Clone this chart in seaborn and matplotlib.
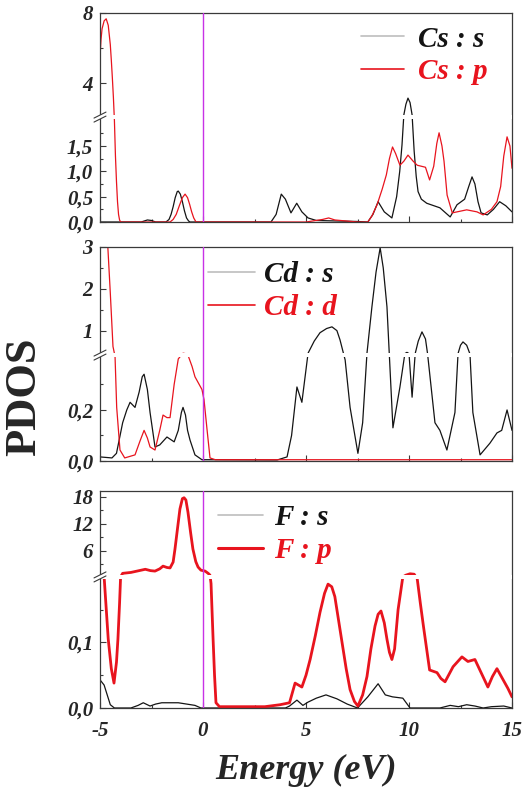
import numpy as np
import matplotlib
matplotlib.use("Agg")
import matplotlib.pyplot as plt
import seaborn as sns
from matplotlib.patches import Rectangle
from matplotlib.ticker import FixedLocator

# ---------------- data: partial densities of states (states/eV) ----------------
cs_s_energy = [-5, -3.0, -2.7, -2.5, -2.3, -1.8, -1.65, -1.55, -1.45, -1.35, -1.25, -1.2, -1.1, -1.0,
               -0.9, -0.8, -0.7, -0.63, -0.4,
               3.3, 3.55, 3.8, 4.0, 4.27, 4.55, 4.8, 5.1, 5.5, 6.5, 7.5, 8.0, 8.25, 8.5, 8.8, 9.17, 9.4,
               9.55, 9.66, 9.75, 9.85, 9.95, 10.05, 10.15, 10.25, 10.35, 10.44, 10.6, 10.86, 11.5, 12.0,
               12.33, 12.7, 12.9, 13.06, 13.2, 13.35, 13.5, 13.8, 14.1, 14.4, 14.7, 15]
cs_s_pdos = [0, 0, 0.04, 0.03, 0, 0, 0.05, 0.15, 0.3, 0.48, 0.6, 0.61, 0.55, 0.4,
             0.22, 0.08, 0.02, 0, 0,
             0, 0.15, 0.55, 0.45, 0.18, 0.37, 0.2, 0.08, 0.03, 0.02, 0.01, 0, 0.15, 0.4, 0.2, 0.08, 0.5,
             1.0, 1.52, 2.2, 2.8, 3.15, 2.9, 2.2, 1.4, 0.9, 0.6, 0.45, 0.37, 0.28, 0.1,
             0.34, 0.45, 0.7, 0.89, 0.75, 0.4, 0.18, 0.14, 0.25, 0.4, 0.32, 0.2]

cs_p_energy = [-5, -4.95, -4.9, -4.8, -4.7, -4.6, -4.5, -4.45, -4.4, -4.35, -4.3, -4.25, -4.2, -4.15,
               -4.1, -4.05, -4.0, -3.0, -1.6, -1.45, -1.3, -1.15, -1.0, -0.87, -0.75, -0.65, -0.55,
               -0.45, -0.34, 0, 5.0, 5.8, 6.1, 6.4, 7.5, 8.0, 8.2, 8.45, 8.7, 8.9, 9.05, 9.2, 9.35,
               9.56, 9.75, 9.95, 10.2, 10.4, 10.8, 11.0, 11.2, 11.35, 11.46, 11.6, 11.7, 11.85, 12.1,
               12.8, 13.3, 13.6, 14.0, 14.27, 14.45, 14.6, 14.76, 14.9, 15]
cs_p_pdos = [5.5, 6.5, 7.1, 7.55, 7.67, 7.3, 6.2, 5.3, 4.3, 3.2, 2.0, 1.3, 0.8, 0.4,
             0.15, 0.04, 0, 0, 0, 0.05, 0.15, 0.32, 0.48, 0.55, 0.48, 0.35, 0.2,
             0.08, 0, 0, 0, 0.05, 0.08, 0.04, 0, 0, 0.12, 0.34, 0.65, 0.93, 1.25, 1.48, 1.35,
             1.12, 1.2, 1.32, 1.2, 1.12, 1.08, 0.83, 1.1, 1.55, 1.76, 1.5, 1.2, 0.53, 0.18,
             0.24, 0.2, 0.14, 0.25, 0.4, 0.7, 1.3, 1.68, 1.5, 1.06]

cd_s_energy = [-5, -4.42, -4.2, -4.05, -3.9, -3.7, -3.54, -3.3, -3.1, -2.95, -2.86, -2.7, -2.57, -2.33,
               -2.1, -1.75, -1.4, -1.2, -1.05, -0.97, -0.85, -0.75, -0.63, -0.39, -0.05, 3.6, 4.08,
               4.3, 4.56, 4.8, 5.1, 5.4, 5.68, 6.0, 6.26, 6.5, 6.65, 6.9, 7.14, 7.52, 7.75, 7.96, 8.2,
               8.4, 8.6, 8.75, 8.93, 9.22, 9.56, 9.8, 9.9, 10.0, 10.15, 10.3, 10.45, 10.63, 10.8,
               10.9, 11.26, 11.5, 11.84, 12.23, 12.38, 12.5, 12.62, 12.8, 12.96, 13.1, 13.45, 13.93,
               14.27, 14.5, 14.76, 15]
cd_s_pdos = [0.016, 0.012, 0.03, 0.09, 0.15, 0.2, 0.23, 0.21, 0.27, 0.33, 0.34, 0.28, 0.19, 0.055,
             0.063, 0.094, 0.075, 0.12, 0.19, 0.21, 0.18, 0.12, 0.082, 0.024, 0.005, 0.004, 0.016,
             0.1, 0.29, 0.23, 0.46, 0.75, 0.95, 1.05, 1.09, 1.0, 0.78, 0.396, 0.21, 0.03, 0.15, 0.46,
             1.57, 2.4, 2.98, 2.5, 1.57, 0.13, 0.29, 0.45, 0.48, 0.45, 0.25, 0.45, 0.75, 0.97, 0.8,
             0.45, 0.15, 0.12, 0.043, 0.19, 0.45, 0.65, 0.73, 0.65, 0.44, 0.19, 0.024, 0.07,
             0.11, 0.12, 0.2, 0.12]

cd_d_energy = [-5, -4.8, -4.62, -4.5, -4.37, -4.27, -4.19, -4.03, -3.8, -3.3, -3.05, -2.86, -2.7, -2.57,
               -2.33, -2.1, -1.94, -1.75, -1.6, -1.4, -1.2, -0.97, -0.75, -0.53, -0.39, -0.05, 0.05,
               0.2, 0.34, 0.6, 15]
cd_d_pdos = [4.5, 4.0, 3.0, 1.9, 0.62, 0.41, 0.21, 0.043, 0.012, 0.024, 0.08, 0.12, 0.09, 0.055,
             0.043, 0.12, 0.18, 0.17, 0.17, 0.3, 0.40, 0.46, 0.44, 0.37, 0.33, 0.28, 0.24,
             0.12, 0.012, 0.005, 0.005]

f_s_energy = [-5, -4.8, -4.65, -4.5, -4.3, -3.5, -3.15, -2.9, -2.57, -2.3, -2.0, -1.2, -0.39, -0.1,
              4.0, 4.2, 4.56, 4.85, 5.1, 5.5, 5.97, 6.5, 7.0, 7.5, 8.0, 8.5, 8.85, 9.2, 9.7, 10.05,
              11.5, 12.0, 12.4, 12.8, 13.2, 13.6, 14.0, 14.6, 15]
f_s_pdos = [0.043, 0.035, 0.02, 0.005, 0, 0, 0.004, 0.008, 0.003, 0.006, 0.008, 0.008, 0.004, 0,
            0, 0.003, 0.012, 0.004, 0.009, 0.015, 0.02, 0.014, 0.006, 0.0, 0.017, 0.037, 0.02, 0.017,
            0.015, 0.0, 0.0, 0.004, 0.002, 0.005, 0.003, 0.0, 0.002, 0.003, 0.0]

f_p_energy = [-5, -4.8, -4.6, -4.45, -4.32, -4.2, -4.13, -4.05, -4.0, -3.9, -3.5, -3.2, -2.8, -2.55,
              -2.33, -2.1, -1.94, -1.75, -1.6, -1.45, -1.36, -1.25, -1.12, -1.0, -0.92, -0.83, -0.73,
              -0.6, -0.49, -0.35, -0.24, -0.1, 0.1, 0.25, 0.34, 0.39, 0.49, 0.56, 0.63, 0.8, 3.0,
              3.74, 4.2, 4.47, 4.8, 5.0, 5.2, 5.45, 5.68, 5.9, 6.07, 6.25, 6.4, 6.6, 6.75, 6.95, 7.14,
              7.35, 7.52, 7.75, 7.96, 8.15, 8.35, 8.5, 8.64, 8.8, 8.93, 9.05, 9.17, 9.3, 9.47, 9.7,
              9.85, 10.05, 10.25, 10.4, 10.55, 10.7, 11.0, 11.36, 11.55, 11.75, 12.14, 12.57, 12.86,
              13.2, 13.5, 13.83, 14.05, 14.27, 14.57, 14.8, 15]
f_p_pdos = [0.5, 0.2, 0.105, 0.06, 0.038, 0.07, 0.105, 0.16, 0.21, 1.0, 1.2, 1.5, 1.9, 1.6,
            1.5, 2.0, 2.6, 2.3, 2.2, 3.5, 6.4, 10.5, 15.3, 17.6, 17.8, 17.3, 14.6,
            10.0, 6.4, 3.6, 2.4, 1.7, 1.5, 1.0, 0.6, 0.19, 0.105, 0.05, 0.008, 0.002, 0.002,
            0.005, 0.008, 0.038, 0.032, 0.05, 0.074, 0.11, 0.146, 0.175, 0.189, 0.185, 0.17, 0.13,
            0.1, 0.06, 0.028, 0.01, 0.003, 0.02, 0.048, 0.09, 0.125, 0.143, 0.148, 0.13, 0.105, 0.085,
            0.074, 0.09, 0.15, 0.2, 0.6, 0.9, 0.8, 0.197, 0.16, 0.125, 0.058, 0.054, 0.045, 0.04,
            0.063, 0.078, 0.071, 0.074, 0.054, 0.032, 0.048, 0.06, 0.043, 0.03, 0.017]

series_labels = [("Cs : s", "Cs : p"), ("Cd : s", "Cd : d"), ("F : s", "F : p")]

energy_ticks = [-5, 0, 5, 10, 15]
energy_tick_labels = ["-5", "0", "5", "10", "15"]
energy_minor = [-2.5, 2.5, 7.5, 12.5]

pdos_ticks = [[0, 0.5, 1.0, 1.5, 4, 8], [0, 0.2, 1, 2, 3], [0, 0.1, 6, 12, 18]]
pdos_tick_labels = [["0,0", "0,5", "1,0", "1,5", "4", "8"],
                    ["0,0", "0,2", "1", "2", "3"],
                    ["0,0", "0,1", "6", "12", "18"]]
pdos_minor = [[0.25, 0.75, 1.25, 1.75, 6], [0.1, 0.3, 1.5, 2.5], [0.05, 0.15, 3, 9, 15]]

# ---------------- style ----------------
sns.set_style("ticks")
plt.rcParams["font.family"] = ["Liberation Serif", "DejaVu Serif"]
plt.rcParams["axes.edgecolor"] = "#3a3a3a"
plt.rcParams["axes.linewidth"] = 0.9

W, H = 528, 792
fig = plt.figure(figsize=(W / 100, H / 100), dpi=100)

BLACK = "#141414"
RED = "#e8141e"
FERMI = "#c832e6"
tick_font = dict(family="Liberation Serif", weight="bold", style="italic", size=15)
legend_font = dict(family="Liberation Serif", weight="bold", style="italic", size=21)


def broken_scale(brk, frac, top):
    """Piecewise-linear y scale: [0, brk] fills the lower `frac` of the axes."""
    def fwd(y):
        y = np.asarray(y, float)
        return np.where(y <= brk, y / brk * frac, frac + (y - brk) / (top - brk) * (1 - frac))

    def inv(t):
        t = np.asarray(t, float)
        return np.where(t <= frac, t / frac * brk, brk + (t - frac) / (1 - frac) * (top - brk))
    return fwd, inv


# panel boxes in pixels (left, top, right, bottom) and y-axis breaks
panels = [
    dict(box=(100, 13, 512, 222), brk=2.07, frac=0.502, top=8.0,
         series=[(cs_s_energy, cs_s_pdos, BLACK, 0.9), (cs_p_energy, cs_p_pdos, RED, 0.9)],
         legend_at=(0.633, 0.797), hlen=1.48, hpad=0.48),
    dict(box=(100, 247, 512, 461), brk=0.415, frac=0.495, top=3.0,
         series=[(cd_s_energy, cd_s_pdos, BLACK, 0.9), (cd_d_energy, cd_d_pdos, RED, 0.9)],
         legend_at=(0.262, 0.794), hlen=1.62, hpad=0.31),
    dict(box=(100, 491, 512, 708), brk=0.2, frac=0.604, top=19.3,
         series=[(f_s_energy, f_s_pdos, BLACK, 0.9), (f_p_energy, f_p_pdos, RED, 2.0)],
         legend_at=(0.286, 0.802), hlen=1.55, hpad=0.38),
]

for i, p in enumerate(panels):
    l, t, r, b = p["box"]
    ax = fig.add_axes([l / W, 1 - b / H, (r - l) / W, (b - t) / H])
    aw, ah = r - l, b - t
    fwd, inv = broken_scale(p["brk"], p["frac"], p["top"])
    ax.set_yscale("function", functions=(fwd, inv))

    for (lab, (E, D, col, lw)) in zip(series_labels[i], p["series"]):
        sns.lineplot(x=E, y=D, ax=ax, color=col, linewidth=lw, label=lab, zorder=2)

    ax.axvline(0, color=FERMI, lw=1.0, zorder=4)
    ax.set_xlim(-5, 15)
    ax.set_ylim(0, p["top"])

    # axis ticks
    ax.set_xticks(energy_ticks)
    ax.xaxis.set_minor_locator(FixedLocator(energy_minor))
    if i == 2:
        ax.set_xticklabels(energy_tick_labels, fontdict=tick_font)
    else:
        ax.set_xticklabels([])
    ax.set_yticks(pdos_ticks[i])
    ax.set_yticklabels(pdos_tick_labels[i], fontdict=tick_font)
    ax.yaxis.set_minor_locator(FixedLocator(pdos_minor[i]))
    ax.tick_params(which="both", direction="in", color="#3a3a3a", width=0.8)
    ax.tick_params(which="major", length=4)
    ax.tick_params(which="minor", length=2.5)
    ax.tick_params(axis="y", pad=5)
    ax.tick_params(axis="x", pad=9)
    ax.set_xlabel("")
    ax.set_ylabel("")

    # break of the y axis: white band through the curves and "//" on the left spine
    f = p["frac"]
    band = 4.0 / ah
    ax.add_patch(Rectangle((0, f - band / 2), 1, band, transform=ax.transAxes,
                           fc="white", ec="none", zorder=3))
    ax.add_patch(Rectangle((-4.0 / aw, f - band / 2), 8.0 / aw, band, transform=ax.transAxes,
                           fc="white", ec="none", zorder=3.5, clip_on=False))
    for off in (-2.0, 2.0):
        ax.plot([-6.0 / aw, 6.0 / aw], [f + (off - 3.0) / ah, f + (off + 3.0) / ah],
                transform=ax.transAxes, color="#3a3a3a", lw=0.8, clip_on=False, zorder=5)

    # legend
    leg = ax.legend(loc="center left", bbox_to_anchor=p["legend_at"], frameon=False,
                    prop=legend_font, labelcolor=[BLACK, RED], borderpad=0, borderaxespad=0,
                    handlelength=p["hlen"], handletextpad=p["hpad"], labelspacing=0.2)
    leg.get_lines()[0].set_color("#bdbdbd")
    leg.get_lines()[0].set_linewidth(1.2)
    leg.get_lines()[1].set_linewidth(1.2 if i < 2 else 2.2)

fig.text(306 / W, 1 - 770 / H, "Energy (eV)", ha="center", va="center",
         family="Liberation Serif", weight="bold", style="italic", size=26)
fig.text(24 / W, 1 - 397 / H, "PDOS", ha="center", va="center", rotation=90,
         family="Liberation Serif", weight="bold", size=32)

fig.savefig("out.png", dpi=100)
